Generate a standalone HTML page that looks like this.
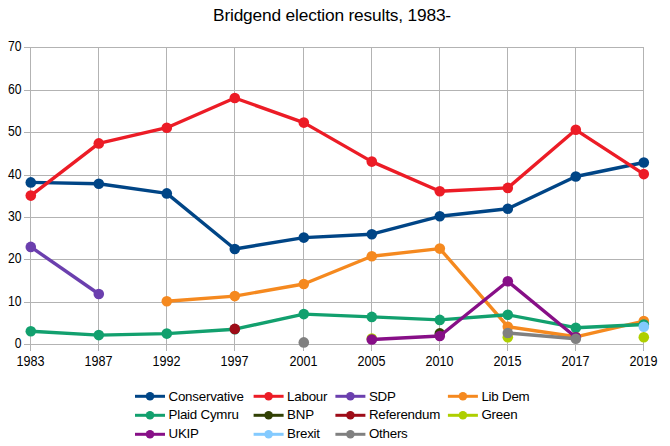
<!DOCTYPE html><html><head><meta charset="utf-8"><style>html,body{margin:0;padding:0;background:#fff;}svg{display:block;font-family:"Liberation Sans",sans-serif;}</style></head><body>
<svg width="670" height="446" viewBox="0 0 670 446">
<rect width="670" height="446" fill="#fff"/>
<text x="332" y="21" font-size="17.33" letter-spacing="-0.18" text-anchor="middle" fill="#000">Bridgend election results, 1983-</text>
<path d="M24 344.5H644 M24 302.5H644 M24 259.5H644 M24 217.5H644 M24 175.5H644 M24 132.5H644 M24 90.5H644 M24 47.5H644 M30.5 47V351 M98.5 47V351 M166.5 47V351 M234.5 47V351 M303.5 47V351 M371.5 47V351 M439.5 47V351 M507.5 47V351 M575.5 47V351 M643.5 47V351" stroke="#b3b3b3" stroke-width="1" fill="none"/>
<text transform="translate(21.50 348.30) scale(0.87 1)" font-size="14" text-anchor="end" fill="#000">0</text>
<text transform="translate(21.50 306.30) scale(0.87 1)" font-size="14" text-anchor="end" fill="#000">10</text>
<text transform="translate(21.50 263.30) scale(0.87 1)" font-size="14" text-anchor="end" fill="#000">20</text>
<text transform="translate(21.50 221.30) scale(0.87 1)" font-size="14" text-anchor="end" fill="#000">30</text>
<text transform="translate(21.50 179.30) scale(0.87 1)" font-size="14" text-anchor="end" fill="#000">40</text>
<text transform="translate(21.50 136.30) scale(0.87 1)" font-size="14" text-anchor="end" fill="#000">50</text>
<text transform="translate(21.50 94.30) scale(0.87 1)" font-size="14" text-anchor="end" fill="#000">60</text>
<text transform="translate(21.50 51.30) scale(0.87 1)" font-size="14" text-anchor="end" fill="#000">70</text>
<text transform="translate(30.50 366.00) scale(0.9 1)" font-size="14" text-anchor="middle" fill="#000">1983</text>
<text transform="translate(98.50 366.00) scale(0.9 1)" font-size="14" text-anchor="middle" fill="#000">1987</text>
<text transform="translate(166.50 366.00) scale(0.9 1)" font-size="14" text-anchor="middle" fill="#000">1992</text>
<text transform="translate(234.50 366.00) scale(0.9 1)" font-size="14" text-anchor="middle" fill="#000">1997</text>
<text transform="translate(303.50 366.00) scale(0.9 1)" font-size="14" text-anchor="middle" fill="#000">2001</text>
<text transform="translate(371.50 366.00) scale(0.9 1)" font-size="14" text-anchor="middle" fill="#000">2005</text>
<text transform="translate(439.50 366.00) scale(0.9 1)" font-size="14" text-anchor="middle" fill="#000">2010</text>
<text transform="translate(507.50 366.00) scale(0.9 1)" font-size="14" text-anchor="middle" fill="#000">2015</text>
<text transform="translate(575.50 366.00) scale(0.9 1)" font-size="14" text-anchor="middle" fill="#000">2017</text>
<text transform="translate(643.50 366.00) scale(0.9 1)" font-size="14" text-anchor="middle" fill="#000">2019</text>
<path d="M30.8 182.4 L98.8 183.7 L166.8 193.4 L234.8 249.0 L303.8 237.6 L371.8 234.2 L439.8 216.3 L507.8 208.7 L575.8 176.5 L643.8 162.5" stroke="#004586" stroke-width="3.4" fill="none" stroke-linejoin="round"/>
<circle cx="30.8" cy="182.4" r="5.3" fill="#004586"/>
<circle cx="98.8" cy="183.7" r="5.3" fill="#004586"/>
<circle cx="166.8" cy="193.4" r="5.3" fill="#004586"/>
<circle cx="234.8" cy="249.0" r="5.3" fill="#004586"/>
<circle cx="303.8" cy="237.6" r="5.3" fill="#004586"/>
<circle cx="371.8" cy="234.2" r="5.3" fill="#004586"/>
<circle cx="439.8" cy="216.3" r="5.3" fill="#004586"/>
<circle cx="507.8" cy="208.7" r="5.3" fill="#004586"/>
<circle cx="575.8" cy="176.5" r="5.3" fill="#004586"/>
<circle cx="643.8" cy="162.5" r="5.3" fill="#004586"/>
<path d="M30.8 195.6 L98.8 143.4 L166.8 127.7 L234.8 98.0 L303.8 122.6 L371.8 161.6 L439.8 191.3 L507.8 187.9 L575.8 129.8 L643.8 174.1" stroke="#ec1c26" stroke-width="3.4" fill="none" stroke-linejoin="round"/>
<circle cx="30.8" cy="195.6" r="5.3" fill="#ec1c26"/>
<circle cx="98.8" cy="143.4" r="5.3" fill="#ec1c26"/>
<circle cx="166.8" cy="127.7" r="5.3" fill="#ec1c26"/>
<circle cx="234.8" cy="98.0" r="5.3" fill="#ec1c26"/>
<circle cx="303.8" cy="122.6" r="5.3" fill="#ec1c26"/>
<circle cx="371.8" cy="161.6" r="5.3" fill="#ec1c26"/>
<circle cx="439.8" cy="191.3" r="5.3" fill="#ec1c26"/>
<circle cx="507.8" cy="187.9" r="5.3" fill="#ec1c26"/>
<circle cx="575.8" cy="129.8" r="5.3" fill="#ec1c26"/>
<circle cx="643.8" cy="174.1" r="5.3" fill="#ec1c26"/>
<path d="M30.8 246.9 L98.8 294.0" stroke="#6b3fae" stroke-width="3.4" fill="none" stroke-linejoin="round"/>
<circle cx="30.8" cy="246.9" r="5.3" fill="#6b3fae"/>
<circle cx="98.8" cy="294.0" r="5.3" fill="#6b3fae"/>
<path d="M166.8 301.2 L234.8 296.1 L303.8 284.0 L371.8 256.2 L439.8 248.6 L507.8 326.7 L575.8 336.8 L643.8 321.1" stroke="#f5891f" stroke-width="3.4" fill="none" stroke-linejoin="round"/>
<circle cx="166.8" cy="301.2" r="5.3" fill="#f5891f"/>
<circle cx="234.8" cy="296.1" r="5.3" fill="#f5891f"/>
<circle cx="303.8" cy="284.0" r="5.3" fill="#f5891f"/>
<circle cx="371.8" cy="256.2" r="5.3" fill="#f5891f"/>
<circle cx="439.8" cy="248.6" r="5.3" fill="#f5891f"/>
<circle cx="507.8" cy="326.7" r="5.3" fill="#f5891f"/>
<circle cx="575.8" cy="336.8" r="5.3" fill="#f5891f"/>
<circle cx="643.8" cy="321.1" r="5.3" fill="#f5891f"/>
<path d="M30.8 331.3 L98.8 335.1 L166.8 333.6 L234.8 329.2 L303.8 314.1 L371.8 316.9 L439.8 319.9 L507.8 314.8 L575.8 327.7 L643.8 324.5" stroke="#12a06e" stroke-width="3.4" fill="none" stroke-linejoin="round"/>
<circle cx="30.8" cy="331.3" r="5.3" fill="#12a06e"/>
<circle cx="98.8" cy="335.1" r="5.3" fill="#12a06e"/>
<circle cx="166.8" cy="333.6" r="5.3" fill="#12a06e"/>
<circle cx="234.8" cy="329.2" r="5.3" fill="#12a06e"/>
<circle cx="303.8" cy="314.1" r="5.3" fill="#12a06e"/>
<circle cx="371.8" cy="316.9" r="5.3" fill="#12a06e"/>
<circle cx="439.8" cy="319.9" r="5.3" fill="#12a06e"/>
<circle cx="507.8" cy="314.8" r="5.3" fill="#12a06e"/>
<circle cx="575.8" cy="327.7" r="5.3" fill="#12a06e"/>
<circle cx="643.8" cy="324.5" r="5.3" fill="#12a06e"/>
<circle cx="439.8" cy="333.4" r="5.3" fill="#314004"/>
<circle cx="234.8" cy="328.9" r="5.3" fill="#9e0c18"/>
<circle cx="371.8" cy="338.5" r="5.3" fill="#aecf00"/>
<circle cx="507.8" cy="337.3" r="5.3" fill="#aecf00"/>
<circle cx="643.8" cy="337.3" r="5.3" fill="#aecf00"/>
<path d="M371.8 339.5 L439.8 336.0 L507.8 281.3 L575.8 337.3" stroke="#870f87" stroke-width="3.4" fill="none" stroke-linejoin="round"/>
<circle cx="371.8" cy="339.5" r="5.3" fill="#870f87"/>
<circle cx="439.8" cy="336.0" r="5.3" fill="#870f87"/>
<circle cx="507.8" cy="281.3" r="5.3" fill="#870f87"/>
<circle cx="575.8" cy="337.3" r="5.3" fill="#870f87"/>
<circle cx="643.8" cy="326.7" r="5.3" fill="#83caff"/>
<path d="M507.8 333.0 L575.8 338.7" stroke="#808080" stroke-width="3.4" fill="none" stroke-linejoin="round"/>
<circle cx="303.8" cy="342.4" r="5.3" fill="#808080"/>
<circle cx="507.8" cy="333.0" r="5.3" fill="#808080"/>
<circle cx="575.8" cy="338.7" r="5.3" fill="#808080"/>
<path d="M135 396.3H165" stroke="#004586" stroke-width="3"/>
<circle cx="150" cy="396.3" r="4.3" fill="#004586"/>
<text x="168.5" y="401.0" font-size="13.33" letter-spacing="-0.22" fill="#000">Conservative</text>
<path d="M253.6 396.3H283.6" stroke="#ec1c26" stroke-width="3"/>
<circle cx="268.6" cy="396.3" r="4.3" fill="#ec1c26"/>
<text x="287.1" y="401.0" font-size="13.33" letter-spacing="-0.22" fill="#000">Labour</text>
<path d="M335.4 396.3H365.4" stroke="#6b3fae" stroke-width="3"/>
<circle cx="350.4" cy="396.3" r="4.3" fill="#6b3fae"/>
<text x="368.9" y="401.0" font-size="13.33" letter-spacing="-0.22" fill="#000">SDP</text>
<path d="M447.9 396.3H477.9" stroke="#f5891f" stroke-width="3"/>
<circle cx="462.9" cy="396.3" r="4.3" fill="#f5891f"/>
<text x="481.4" y="401.0" font-size="13.33" letter-spacing="-0.22" fill="#000">Lib Dem</text>
<path d="M135 415.3H165" stroke="#12a06e" stroke-width="3"/>
<circle cx="150" cy="415.3" r="4.3" fill="#12a06e"/>
<text x="168.5" y="419.4" font-size="13.33" letter-spacing="-0.22" fill="#000">Plaid Cymru</text>
<path d="M253.6 415.3H283.6" stroke="#314004" stroke-width="3"/>
<circle cx="268.6" cy="415.3" r="4.3" fill="#314004"/>
<text x="287.1" y="419.4" font-size="13.33" letter-spacing="-0.22" fill="#000">BNP</text>
<path d="M335.4 415.3H365.4" stroke="#9e0c18" stroke-width="3"/>
<circle cx="350.4" cy="415.3" r="4.3" fill="#9e0c18"/>
<text x="368.9" y="419.4" font-size="13.33" letter-spacing="-0.22" fill="#000">Referendum</text>
<path d="M447.9 415.3H477.9" stroke="#aecf00" stroke-width="3"/>
<circle cx="462.9" cy="415.3" r="4.3" fill="#aecf00"/>
<text x="481.4" y="419.4" font-size="13.33" letter-spacing="-0.22" fill="#000">Green</text>
<path d="M135 434.3H165" stroke="#870f87" stroke-width="3"/>
<circle cx="150" cy="434.3" r="4.3" fill="#870f87"/>
<text x="168.5" y="437.8" font-size="13.33" letter-spacing="-0.22" fill="#000">UKIP</text>
<path d="M253.6 434.3H283.6" stroke="#83caff" stroke-width="3"/>
<circle cx="268.6" cy="434.3" r="4.3" fill="#83caff"/>
<text x="287.1" y="437.8" font-size="13.33" letter-spacing="-0.22" fill="#000">Brexit</text>
<path d="M335.4 434.3H365.4" stroke="#808080" stroke-width="3"/>
<circle cx="350.4" cy="434.3" r="4.3" fill="#808080"/>
<text x="368.9" y="437.8" font-size="13.33" letter-spacing="-0.22" fill="#000">Others</text>
</svg></body></html>
